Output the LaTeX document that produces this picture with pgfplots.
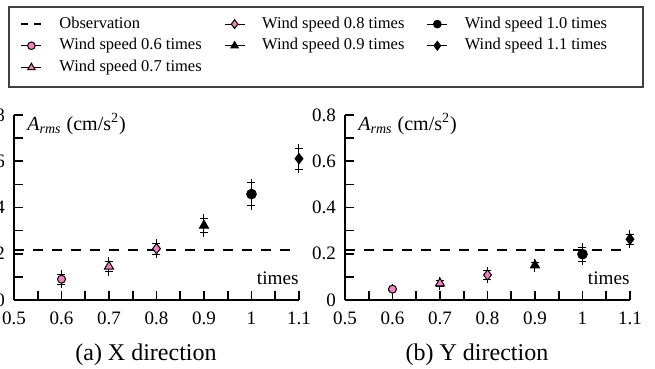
\documentclass[border=0pt]{standalone}
\usepackage{pgfplots}
\pgfplotsset{compat=1.18}
\usepackage{fontspec}
\setmainfont{Liberation Serif}
\definecolor{pk}{RGB}{240,128,190}

\pgfplotsset{
  myax/.style={
    scale only axis, width=142.5pt, height=92.5pt,
    xmin=0.5, xmax=1.1, ymin=0, ymax=0.8,
    axis lines=left, axis line style={-, line width=1pt},
    every tick/.style={black, line width=0.8pt},
    tick align=inside, major tick length=4.5pt, minor tick length=4.5pt,
    xtick={0.5,0.6,0.7,0.8,0.9,1,1.1}, ytick={0,0.2,0.4,0.6,0.8},
    minor x tick num=1, minor y tick num=1,
    /pgf/number format/assume math mode=true,
    ticklabel style={font=\fontsize{9.5}{11}\selectfont},
    xticklabel style={yshift=-2.5pt},
    yticklabel style={xshift=-1pt},
    clip=false,
  },
  eb/.style={only marks, black, line width=0.5pt,
    error bars/y dir=both, error bars/y explicit, error bars/error mark=+,
    error bars/error mark options={black, mark size=2pt, line width=0.5pt},
    error bars/error bar style={black, line width=0.5pt}},
}

\begin{document}
\begin{tikzpicture}
\begin{axis}[myax, at={(0pt,0pt)}, anchor=south west,
  legend columns=3,
  legend cell align=left,
  legend style={at={(axis description cs:0.02105,1.5324)}, anchor=north west,
    draw=none, fill=none, font=\fontsize{8.25}{10}\selectfont,
    inner sep=0pt, nodes={inner sep=0pt}, row sep=3.6pt,
    /tikz/every odd column/.style={column sep=8.5pt},
    /tikz/every even column/.style={column sep=11.2pt}},
  legend image code/.code={\draw[#1, mark repeat=2, mark phase=2] plot coordinates {(0pt,0pt) (5pt,0pt) (10pt,0pt)};},
]
\addplot[black, line width=1pt, dash pattern=on 5pt off 4.5pt, forget plot] coordinates {(0.5,0.215) (1.1,0.215)};
\addplot[eb, mark=*, mark size=2pt, mark options={fill=pk, draw=black}, forget plot] coordinates {(0.6,0.090) +- (0,0.022)};
\addplot[eb, mark=triangle*, mark size=2.6pt, mark options={fill=pk, draw=black}, forget plot] coordinates {(0.7,0.145) +- (0,0.022)};
\addplot[eb, mark=diamond*, mark size=2.6pt, mark options={fill=pk, draw=black}, forget plot] coordinates {(0.8,0.222) +- (0,0.024)};
\addplot[eb, mark=triangle*, mark size=2.6pt, mark options={fill=black}, forget plot] coordinates {(0.9,0.322) +- (0,0.032)};
\addplot[eb, mark=*, mark size=2.4pt, mark options={fill=black}, forget plot] coordinates {(1.0,0.458) +- (0,0.050)};
\addplot[eb, mark=diamond*, mark size=2.6pt, mark options={fill=black}, forget plot] coordinates {(1.1,0.611) +- (0,0.045)};
% legend in column-major order
\addlegendimage{black, line width=1pt, dash pattern=on 3.5pt off 3pt}
\addlegendentry{Observation}
\addlegendimage{black, line width=0.5pt, mark=diamond*, mark size=2.2pt, mark options={fill=pk}}
\addlegendentry{Wind speed 0.8 times}
\addlegendimage{black, line width=0.5pt, mark=*, mark size=1.9pt, mark options={fill=black}}
\addlegendentry{Wind speed 1.0 times}
\addlegendimage{black, line width=0.5pt, mark=*, mark size=1.9pt, mark options={fill=pk}}
\addlegendentry{Wind speed 0.6 times}
\addlegendimage{black, line width=0.5pt, mark=triangle*, mark size=2.1pt, mark options={fill=black}}
\addlegendentry{Wind speed 0.9 times}
\addlegendimage{black, line width=0.5pt, mark=diamond*, mark size=2.2pt, mark options={fill=black}}
\addlegendentry{Wind speed 1.1 times}
\addlegendimage{black, line width=0.5pt, mark=triangle*, mark size=2.1pt, mark options={fill=pk}}
\addlegendentry{Wind speed 0.7 times}
\node[anchor=west, inner sep=0pt, xshift=6.5pt, yshift=-4.5pt, font=\fontsize{10}{12}\selectfont] at (rel axis cs:0,1) {\textit{A}\textsubscript{\textit{rms}} (cm/s\textsuperscript{2})};
\node[anchor=base east, inner sep=0pt, yshift=7.5pt, font=\fontsize{9.6}{11}\selectfont] at (rel axis cs:1,0) {times};
\end{axis}

\begin{axis}[myax, at={(165.5pt,0pt)}, anchor=south west]
\addplot[black, line width=1pt, dash pattern=on 5pt off 4.5pt] coordinates {(0.5,0.215) (1.1,0.215)};
\addplot[eb, mark=*, mark size=2pt, mark options={fill=pk, draw=black}] coordinates {(0.6,0.047) +- (0,0.004)};
\addplot[eb, mark=triangle*, mark size=2.6pt, mark options={fill=pk, draw=black}] coordinates {(0.7,0.072) +- (0,0.012)};
\addplot[eb, mark=diamond*, mark size=2.6pt, mark options={fill=pk, draw=black}] coordinates {(0.8,0.108) +- (0,0.018)};
\addplot[eb, mark=triangle*, mark size=2.6pt, mark options={fill=black}] coordinates {(0.9,0.150) +- (0,0.010)};
\addplot[eb, mark=*, mark size=2.4pt, mark options={fill=black}] coordinates {(1.0,0.198) +- (0,0.030)};
\addplot[eb, mark=diamond*, mark size=2.6pt, mark options={fill=black}] coordinates {(1.1,0.263) +- (0,0.022)};
\node[anchor=west, inner sep=0pt, xshift=6.5pt, yshift=-4.5pt, font=\fontsize{10}{12}\selectfont] at (rel axis cs:0,1) {\textit{A}\textsubscript{\textit{rms}} (cm/s\textsuperscript{2})};
\node[anchor=base east, inner sep=0pt, yshift=7.5pt, font=\fontsize{9.6}{11}\selectfont] at (rel axis cs:1,0) {times};
\end{axis}

\draw[line width=0.7pt, black!75] (-2.5pt,106.5pt) rectangle (314.5pt,146.5pt);
\node[font=\fontsize{12}{14}\selectfont] at (66pt,-27.5pt) {(a) X direction};
\node[font=\fontsize{12}{14}\selectfont] at (231.5pt,-27.5pt) {(b) Y direction};

\pgfresetboundingbox
\useasboundingbox (-7pt,-34.5pt) rectangle (320.5pt,150pt);
\end{tikzpicture}
\end{document}
